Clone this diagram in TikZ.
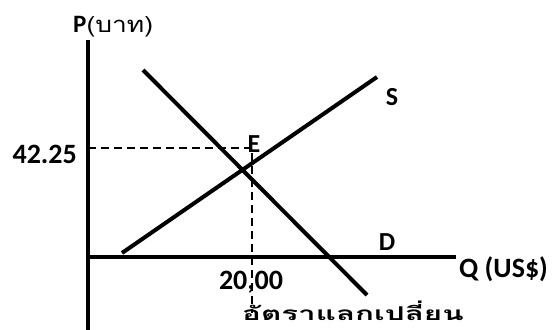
\documentclass[tikz,border=0pt]{standalone}
\usepackage{fontspec}
\setmainfont{Carlito}
\newfontfamily\thaifont[Script=Thai,FakeStretch=1.2]{Loma}
\newfontfamily\thaiwide[Script=Thai,FakeStretch=1.65]{Loma}
\begin{document}
\begin{tikzpicture}[x=1pt,y=-1pt,
  axisline/.style={line width=4pt},
  curve/.style={line width=4pt},
  guide/.style={line width=1.6pt,dash pattern=on 8pt off 5pt},
  lbl/.style={inner sep=0pt,font=\bfseries\fontsize{28}{30}\selectfont}]
\useasboundingbox (0,0) rectangle (553,329);
\coordinate (O) at (88,257);
\coordinate (ytop) at (88,40);
\coordinate (ybot) at (88,331);
\coordinate (xend) at (456,257);
\coordinate (d1) at (143,70);
\coordinate (d2) at (367,295);
\coordinate (s1) at (122,253);
\coordinate (s2) at (377,77);
\coordinate (hl) at (88,148);
\coordinate (corner) at (252,148);
\coordinate (vb) at (252,313);
\draw[axisline] (ybot) -- (ytop);
\draw[axisline] (O) -- (xend);
\draw[curve] (d1) -- (d2);
\draw[curve] (s1) -- (s2);
\draw[guide] (hl) -- (corner) -- (vb);
\node[inner sep=0pt,anchor=base west,font=\bfseries\fontsize{25}{27}\selectfont] (plabel) at (73,33) {P\mdseries\thaifont\fontsize{22}{24}\selectfont(บาท)};
\node[lbl,anchor=east] (price) at (77,154) {42.25};
\node[lbl,font=\bfseries\fontsize{26}{28}\selectfont] (elabel) at (254,144) {E};
\node[lbl,font=\bfseries\fontsize{26}{28}\selectfont] (slabel) at (392,97) {S};
\node[lbl,font=\bfseries\fontsize{26}{28}\selectfont] (dlabel) at (387,242) {D};
\node[lbl] (qty) at (251,282) {20,00};
\node[lbl,anchor=west] (qlabel) at (459,269) {Q (US\$)};
\node[inner sep=0pt,anchor=base west,font=\thaiwide\bfseries\fontsize{19}{21}\selectfont] (rate) at (242,320) {อัตราแลกเปลี่ยน};
\end{tikzpicture}
\end{document}
